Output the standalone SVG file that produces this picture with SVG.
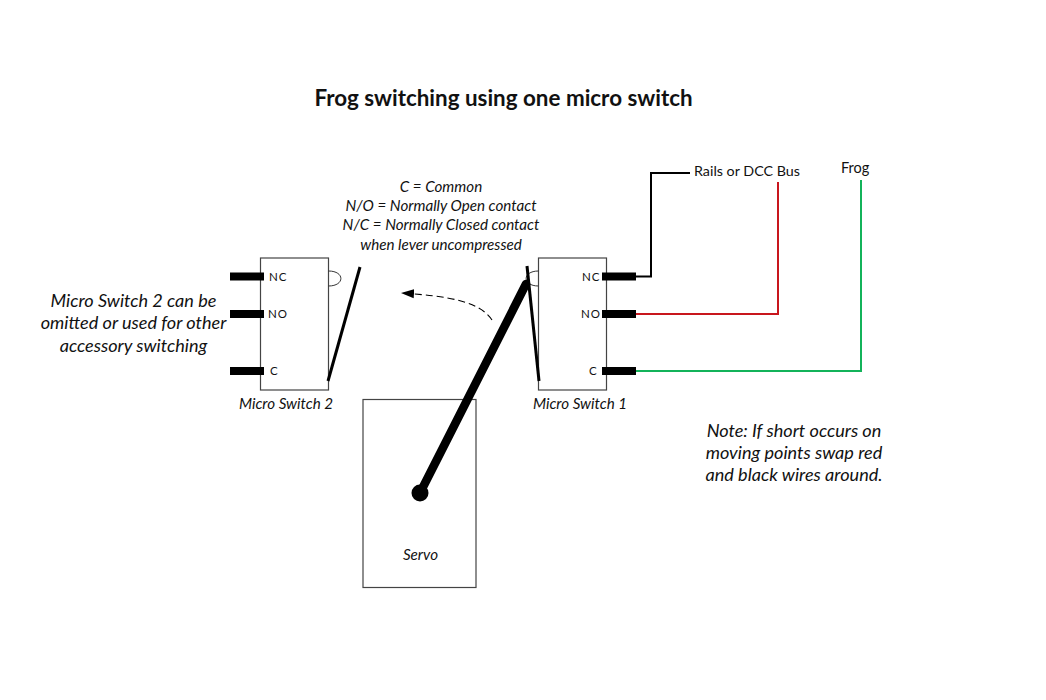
<svg xmlns="http://www.w3.org/2000/svg" width="1046" height="700" viewBox="0 0 1046 700">
<defs>
<marker id="ah" markerWidth="15" markerHeight="10" refX="13" refY="5" orient="auto" markerUnits="userSpaceOnUse" viewBox="0 0 15 10"><path d="M0 0.500 L13 5 L0 9.500 Z" fill="#000"/></marker>
</defs>
<style>
text{font-family:Lato,"Liberation Sans",sans-serif;fill:#111}
.i{font-style:italic}
.l{font-size:11.5px;letter-spacing:.9px}
.c{text-anchor:middle}
.sm{font-size:15.2px}
.n{font-size:18.1px}
.box{fill:#fff;stroke:#444;stroke-width:1.2}
.pin{stroke:#000;stroke-width:8;fill:none}
.w{fill:none;stroke-width:2}
.lever{stroke:#000;stroke-width:3;fill:none}
.bump{fill:none;stroke:#333;stroke-width:1}
</style>
<rect width="1046" height="700" fill="#fff"/>
<text id="title" x="503.500" y="105.500" class="c" font-size="22.400" font-weight="700">Frog switching using one micro switch</text>
<g id="connectors">
<path class="w" stroke="#000" d="M636 276.500H651V173H690"/>
<path class="w" stroke="#c8161d" d="M636 314H778V182"/>
<path class="w" stroke="#13b35a" d="M632 371H861V180"/>
<path d="M492 320 C480 302 450 296 401 293" fill="none" stroke="#000" stroke-width="1.100" stroke-dasharray="7 4" marker-end="url(#ah)"/>
</g>
<g id="micro-switch-2">
<rect class="box" x="260.500" y="258" width="68" height="132"/>
<path class="bump" d="M328.500 271 C345 271 345 286 328.500 286"/>
<path class="pin" d="M230 276.500H264M230 314H264M230 371H264"/>
<path class="lever" d="M360 267L328 381"/>
<text x="269" y="281" class="l">NC</text><text x="268" y="318" class="l">NO</text><text x="270" y="375" class="l">C</text>
<text x="286" y="408.500" class="c i sm">Micro Switch 2</text>
</g>
<g id="micro-switch-1">
<rect class="box" x="538.500" y="258" width="68" height="132"/>
<path class="bump" d="M538.500 271 C522 271 522 286 538.500 286"/>
<path class="pin" d="M602 276.500H636M602 314H636M602 371H636"/>
<path class="lever" d="M527 266L539 381"/>
<text x="582" y="281" class="l">NC</text><text x="581" y="318" class="l">NO</text><text x="589" y="375" class="l">C</text>
<text x="580" y="408.500" class="c i sm">Micro Switch 1</text>
</g>
<g id="servo">
<rect class="box" x="363" y="399.500" width="113" height="188"/>
<path d="M420 493L526 284" stroke="#000" stroke-width="8.500" stroke-linecap="round" fill="none"/>
<circle cx="420" cy="493" r="8.500" fill="#000"/>
<text x="420.500" y="560" class="c i sm">Servo</text>
</g>
<g id="legend" class="i sm">
<text x="441" y="192" class="c">C = Common</text>
<text x="441" y="211" class="c">N/O = Normally Open contact</text>
<text x="441" y="230" class="c">N/C = Normally Closed contact</text>
<text x="441" y="250" class="c">when lever uncompressed</text>
</g>
<g id="label-rails"><text x="694" y="176" font-size="14.300">Rails or DCC Bus</text></g>
<g id="label-frog"><text x="841" y="172.500" font-size="14.500">Frog</text></g>
<g id="note-left" class="i n">
<text x="133.500" y="307" class="c">Micro Switch 2 can be</text>
<text x="133.500" y="329" class="c">omitted or used for other</text>
<text x="133.500" y="352" class="c">accessory switching</text>
</g>
<g id="note-right" class="i n">
<text x="794" y="436.500" class="c">Note: If short occurs on</text>
<text x="794" y="459" class="c">moving points swap red</text>
<text x="794" y="481" class="c">and black wires around.</text>
</g>
</svg>
